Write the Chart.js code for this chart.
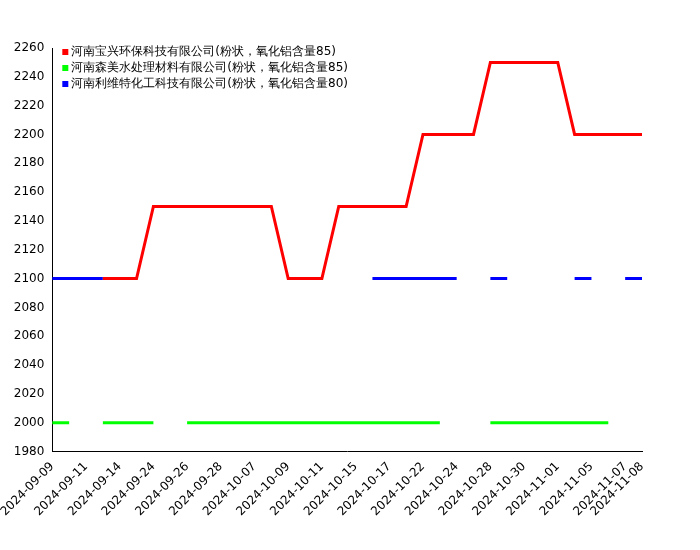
<!DOCTYPE html>
<html>
<head>
<meta charset="utf-8">
<script src="https://cdn.jsdelivr.net/npm/chart.js@4/dist/chart.umd.min.js"></script>
<style>
  body { margin: 0; background: #fff; }
  #wrap { width: 700px; height: 550px; }
</style>
</head>
<body>
<div id="wrap"><canvas id="c"></canvas></div>
<script>
const dates = [
    '2024-09-09', '2024-09-10', '2024-09-11', '2024-09-13', '2024-09-14', '2024-09-20',
    '2024-09-24', '2024-09-25', '2024-09-26', '2024-09-27', '2024-09-28', '2024-09-30',
    '2024-10-07', '2024-10-08', '2024-10-09', '2024-10-10', '2024-10-11', '2024-10-14',
    '2024-10-15', '2024-10-16', '2024-10-17', '2024-10-18', '2024-10-22', '2024-10-23',
    '2024-10-24', '2024-10-25', '2024-10-28', '2024-10-29', '2024-10-30', '2024-10-31',
    '2024-11-01', '2024-11-04', '2024-11-05', '2024-11-06', '2024-11-07', '2024-11-08'
];

const names = [
    '河南宝兴环保科技有限公司(粉状，氧化铝含量85)',
    '河南森美水处理材料有限公司(粉状，氧化铝含量85)',
    '河南利维特化工科技有限公司(粉状，氧化铝含量80)'
];
const colors = ['#ff0000', '#00ff00', '#0000ff'];

const N = null;
const baoxing = [N, N, N, 2100, 2100, 2100, 2150, 2150, 2150, 2150, 2150, 2150,
    2150, 2150, 2100, 2100, 2100, 2150, 2150, 2150, 2150, 2150, 2200, 2200,
    2200, 2200, 2250, 2250, 2250, 2250, 2250, 2200, 2200, 2200, 2200, 2200];
const senmei = [2000, 2000, N, 2000, 2000, 2000, 2000, N, 2000, 2000, 2000, 2000,
    2000, 2000, 2000, 2000, 2000, 2000, 2000, 2000, 2000, 2000, 2000, 2000,
    N, N, 2000, 2000, 2000, 2000, 2000, 2000, 2000, 2000, N, N];
const liweite = [2100, 2100, 2100, 2100, N, N, N, N, N, N, N, N,
    N, N, N, N, N, N, N, 2100, 2100, 2100, 2100, 2100,
    2100, N, 2100, 2100, N, N, N, 2100, 2100, N, 2100, 2100];

const series = [baoxing, senmei, liweite];
const font = { family: 'DejaVu Sans', size: 12 };

const insideLegend = {
    id: 'insideLegend',
    afterDraw(chart) {
        const ctx = chart.ctx;
        const a = chart.chartArea;
        ctx.save();
        ctx.font = '12px "DejaVu Sans"';
        ctx.textBaseline = 'middle';
        names.forEach((n, i) => {
            const y = a.top + 4 + i * 16;
            ctx.fillStyle = colors[i];
            ctx.fillRect(a.left + 10, y - 3, 6, 6);
            ctx.fillStyle = '#000';
            ctx.fillText(n, a.left + 19, y);
        });
        ctx.restore();
    }
};

new Chart(document.getElementById('c'), {
    type: 'line',
    data: {
        labels: dates,
        datasets: series.map((d, i) => ({
            label: names[i],
            data: d,
            borderColor: colors[i],
            backgroundColor: colors[i],
            borderWidth: 3,
            pointRadius: 0,
            spanGaps: false,
            tension: 0
        }))
    },
    options: {
        responsive: true,
        maintainAspectRatio: false,
        animation: false,
        layout: { padding: { top: 48, right: 58, left: 5, bottom: 28 } },
        plugins: { legend: { display: false }, tooltip: { enabled: false } },
        scales: {
            x: {
                offset: false,
                grid: { display: false, drawTicks: true, tickLength: 5, tickColor: '#000' },
                border: { color: '#000' },
                ticks: {
                    autoSkip: false,
                    maxRotation: 45,
                    minRotation: 45,
                    color: '#000',
                    font: font,
                    callback: (v, i) => (i % 2 === 0 || i === dates.length - 1) ? dates[i] : ''
                }
            },
            y: {
                min: 1980,
                max: 2260,
                grid: { display: false, drawTicks: true, tickLength: 5, tickColor: '#000' },
                border: { color: '#000' },
                ticks: { stepSize: 20, color: '#000', font: font, callback: v => String(v) }
            }
        }
    },
    plugins: [insideLegend]
});
</script>
</body>
</html>
